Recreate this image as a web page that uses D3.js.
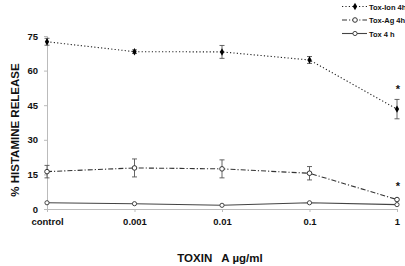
<!DOCTYPE html>
<html>
<head>
<meta charset="utf-8">
<script src="https://cdn.jsdelivr.net/npm/d3@7"></script>
<style>
  body { margin: 0; background: #fff; }
  text { font-family: "Liberation Sans", Arial, sans-serif; font-weight: bold; fill: #111; }
</style>
</head>
<body>
<div id="chart"></div>
<script>
// % histamine release vs toxin A concentration

const width = 405, height = 266;
const margin = { top: 36, right: 8, bottom: 57, left: 47 };

const doses = ["control", "0.001", "0.01", "0.1", "1"];
const yTicks = [0, 15, 30, 45, 60, 75];

const ionMean = [72.5, 68.2, 68.1, 64.6, 43.3];
const ionErr  = [1.5, 0.8, 2.8, 1.5, 4.2];
const agMean  = [16.2, 17.8, 17.4, 15.5, 4.1];
const agErr   = [2.7, 3.9, 3.9, 2.9, 0.5];
const toxMean = [2.7, 2.3, 1.6, 2.7, 1.9];
const toxErr  = [0.3, 0.3, 0.3, 0.3, 0.3];

const seriesNames = ["Tox-Ion 4h", "Tox-Ag 4h", "Tox 4 h"];
const starred = [{ dose: "1", value: 52 }, { dose: "1", value: 10 }];

const svg = d3.select("#chart")
  .append("svg")
  .attr("width", width)
  .attr("height", height);

const x = d3.scalePoint()
  .domain(doses)
  .range([margin.left, width - margin.right]);

const y = d3.scaleLinear()
  .domain([0, 75])
  .range([height - margin.bottom, margin.top]);

// axes
const xAxis = svg.append("g")
  .attr("transform", `translate(0,${y(0)})`)
  .call(d3.axisBottom(x).tickSize(3).tickPadding(6));
xAxis.select(".domain").attr("stroke", "#bbb");
xAxis.selectAll(".tick line").attr("stroke", "#bbb");
xAxis.selectAll("text").attr("font-size", 9.5);

const yAxis = svg.append("g")
  .attr("transform", `translate(${margin.left},0)`)
  .call(d3.axisLeft(y).tickValues(yTicks).tickSize(3).tickPadding(6));
yAxis.select(".domain").attr("stroke", "#bbb");
yAxis.selectAll(".tick line").attr("stroke", "#bbb");
yAxis.selectAll("text").attr("font-size", 9.5);

svg.append("text")
  .attr("transform", `translate(19,130) rotate(-90)`)
  .attr("text-anchor", "middle")
  .attr("font-size", 11.5)
  .text("% HISTAMINE RELEASE");

svg.append("text")
  .attr("x", 220)
  .attr("y", 262)
  .attr("text-anchor", "middle")
  .attr("font-size", 11.5)
  .attr("xml:space", "preserve")
  .text("TOXIN   A µg/ml");

const series = [
  { name: seriesNames[0], mean: ionMean, err: ionErr, dash: "1.2,2.2", stroke: "#222", width: 1.1, marker: "diamond" },
  { name: seriesNames[1], mean: agMean, err: agErr, dash: "5,2,1.2,2", stroke: "#333", width: 1.1, marker: "square" },
  { name: seriesNames[2], mean: toxMean, err: toxErr, dash: null, stroke: "#444", width: 1.1, marker: "circle" }
];

const line = d3.line()
  .x(d => x(d.dose))
  .y(d => y(d.value));

function drawMarker(g, type, cx, cy) {
  if (type === "diamond") {
    g.append("path")
      .attr("d", d3.symbol(d3.symbolDiamond, 16)())
      .attr("transform", `translate(${cx},${cy})`)
      .attr("fill", "#000");
  } else if (type === "square") {
    g.append("circle")
      .attr("cx", cx).attr("cy", cy).attr("r", 2.3)
      .attr("fill", "#fff").attr("stroke", "#333").attr("stroke-width", 1);
  } else {
    g.append("circle")
      .attr("cx", cx).attr("cy", cy).attr("r", 2.1)
      .attr("fill", "#fff").attr("stroke", "#333").attr("stroke-width", 0.9);
  }
}

series.forEach(s => {
  const pts = doses.map((d, i) => ({ dose: d, value: s.mean[i], err: s.err[i] }));
  const g = svg.append("g");

  g.append("path")
    .datum(pts)
    .attr("d", line)
    .attr("fill", "none")
    .attr("stroke", s.stroke)
    .attr("stroke-width", s.width)
    .attr("stroke-dasharray", s.dash);

  // error bars
  pts.forEach(p => {
    if (p.err < 0.6) return;
    const cx = x(p.dose);
    g.append("path")
      .attr("d", `M${cx - 2.5},${y(p.value + p.err)}H${cx + 2.5}M${cx},${y(p.value + p.err)}V${y(p.value - p.err)}M${cx - 2.5},${y(p.value - p.err)}H${cx + 2.5}`)
      .attr("stroke", "#555")
      .attr("stroke-width", 0.9)
      .attr("fill", "none");
  });

  pts.forEach(p => drawMarker(g, s.marker, x(p.dose), y(p.value)));
});

// significance stars
svg.append("g")
  .selectAll("text")
  .data(starred)
  .join("text")
  .attr("x", d => x(d.dose) + 1)
  .attr("y", d => y(d.value) + 4)
  .attr("text-anchor", "middle")
  .attr("font-size", 11)
  .text("*");

// legend
const legend = svg.append("g");
series.forEach((s, i) => {
  const ly = 6.5 + i * 13.5;
  legend.append("line")
    .attr("x1", 342).attr("x2", 367)
    .attr("y1", ly).attr("y2", ly)
    .attr("stroke", s.stroke)
    .attr("stroke-width", s.width)
    .attr("stroke-dasharray", s.dash);
  drawMarker(legend, s.marker, 355, ly);
  legend.append("text")
    .attr("x", 369)
    .attr("y", ly + 3)
    .attr("font-size", 7.5)
    .text(s.name);
});
</script>
</body>
</html>
